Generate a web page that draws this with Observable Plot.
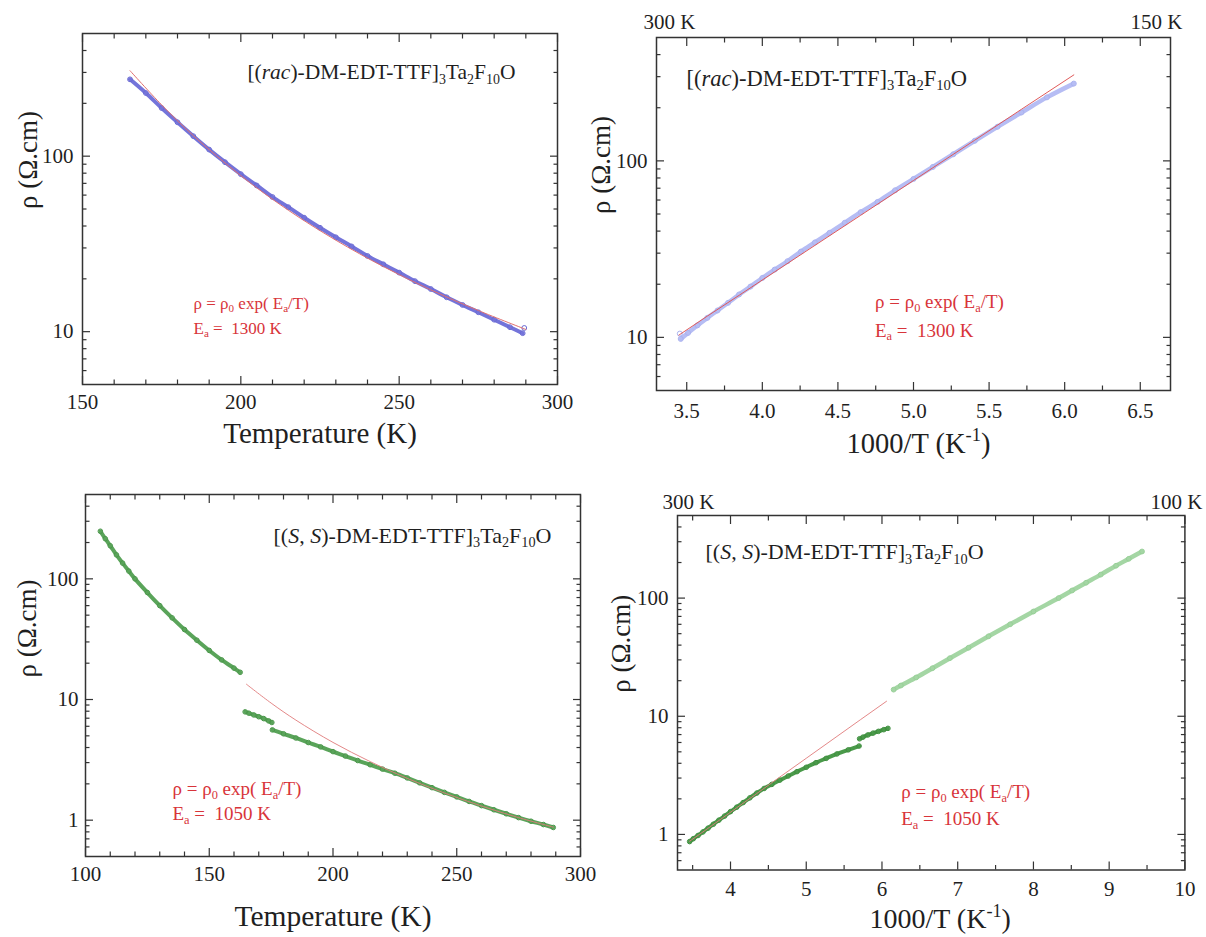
<!DOCTYPE html>
<html>
<head>
<meta charset="utf-8">
<script src="https://cdn.jsdelivr.net/npm/d3@7"></script>
<script src="https://cdn.jsdelivr.net/npm/@observablehq/plot@0.6"></script>
<style>
html, body { margin: 0; padding: 0; background: #fff; }
#wrap { position: relative; width: 1206px; height: 937px; overflow: hidden; background: #fff; }
#wrap svg { position: absolute; overflow: visible; background: transparent !important; font-family: "Liberation Serif", "Times New Roman", Times, serif !important; }
#wrap svg text { font-family: "Liberation Serif", "Times New Roman", Times, serif; white-space: pre; }
</style>
</head>
<body>
<div id="wrap"></div>
<script>
// ---------------- data ----------------
// (rac) sample: temperature (K) and resistivity (Ohm.cm)
const racT   = [165, 170, 175, 180, 185, 190, 195, 200, 205, 210, 215, 220, 225, 230, 235, 240, 245, 250, 255, 260, 265, 270, 275, 280, 285, 289];
const racRho = [274, 229, 188, 156, 130, 109, 92.4, 79, 68.1, 58.5, 51.2, 44.6, 39.1, 34.5, 30.6, 27.0, 24.2, 21.7, 19.4, 17.5, 15.7, 14.2, 12.9, 11.7, 10.6, 9.8];
const racOutT   = [289.5];
const racOutRho = [10.5];
// Arrhenius fit line for (rac), Ea = 1300 K
const racFitT   = [165, 175, 185, 200, 215, 230, 245, 260, 275, 290];
const racFitRho = [307, 196, 131, 77.4, 49.2, 33.2, 23.5, 17.3, 13.2, 10.3];

// (S,S) sample: three measured branches
const ssA_T   = [106, 108, 110, 112.5, 115, 117.5, 120, 125, 130, 135, 140, 145, 150, 155, 160, 162.5];
const ssA_Rho = [248, 215, 188, 158, 135, 116, 100, 77, 60, 47.5, 38, 31, 25.5, 21.3, 18.2, 16.8];
const ssB_T   = [164.5, 166, 168, 170, 172, 174, 175.3];
const ssB_Rho = [7.9, 7.7, 7.45, 7.2, 6.95, 6.65, 6.45];
const ssC_T   = [175.5, 180, 185, 190, 195, 200, 205, 210, 215, 220, 225, 230, 235, 240, 245, 250, 255, 260, 265, 270, 275, 280, 285, 289];
const ssC_Rho = [5.6, 5.2, 4.8, 4.4, 4.05, 3.7, 3.4, 3.12, 2.88, 2.65, 2.45, 2.24, 2.04, 1.86, 1.70, 1.56, 1.43, 1.32, 1.22, 1.13, 1.05, 0.98, 0.92, 0.87];
// Arrhenius fit line for (S,S), Ea = 1050 K
const ssFitT   = [165, 175, 185, 200, 215, 230, 245, 260, 275, 289];
const ssFitRho = [13.4, 9.34, 6.75, 4.41, 3.06, 2.22, 1.68, 1.31, 1.05, 0.876];

// tick values
const tMajor1 = [150, 200, 250, 300];
const tMinor1 = [160, 170, 180, 190, 210, 220, 230, 240, 260, 270, 280, 290];
const invMajor2 = [3.5, 4.0, 4.5, 5.0, 5.5, 6.0, 6.5];
const invMinor2 = [3.75, 4.25, 4.75, 5.25, 5.75, 6.25];
const tMajor3 = [100, 150, 200, 250, 300];
const tMinor3 = [110, 120, 130, 140, 160, 170, 180, 190, 210, 220, 230, 240, 260, 270, 280, 290];
const invMajor4 = [4, 5, 6, 7, 8, 9, 10];
const invMinor4 = [3.5, 4.5, 5.5, 6.5, 7.5, 8.5, 9.5];
const rhoMajorTop = [10, 100];
const rhoMinorTop = [6, 7, 8, 9, 20, 30, 40, 50, 60, 70, 80, 90, 200, 300, 400];
const rhoMajorBot = [1, 10, 100];
const rhoMinorBot = [0.6, 0.7, 0.8, 0.9, 2, 3, 4, 5, 6, 7, 8, 9, 20, 30, 40, 50, 60, 70, 80, 90, 200, 300, 400];
const topTemps2 = [300, 150];
const topTemps4 = [300, 100];

// texts
const labelRac = "[(rac)-DM-EDT-TTF]3Ta2F10O";
const labelSS = "[(S, S)-DM-EDT-TTF]3Ta2F10O";
const fitEq = "ρ = ρ0 exp( Ea/T)";
const fitEa1 = "Ea =  1300 K";
const fitEa2 = "Ea =  1050 K";
const yTitle = "ρ (Ω.cm)";
const tTitle = "Temperature (K)";
const invTitle = "1000/T (K-1)";

// ---------------- tables ----------------
const toRows = (Ts, Rs, seg) => Ts.map((T, i) => ({T, inv: 1000 / T, rho: Rs[i], seg}));
const rac = toRows(racT, racRho, "a");
const racOut = toRows(racOutT, racOutRho, "o");
const racFit = toRows(racFitT, racFitRho, "f");
const ssA = toRows(ssA_T, ssA_Rho, "A");
const ssB = toRows(ssB_T, ssB_Rho, "B");
const ssC = toRows(ssC_T, ssC_Rho, "C");
const ssAll = [...ssA, ...ssB, ...ssC];
const ssFit = toRows(ssFitT, ssFitRho, "f");

// ---------------- rich text (sub/superscripts, italics) ----------------
function rich(parts) {
  let off = 0, out = "";
  for (const [t, k] of parts) {
    const a = [];
    if (k === "s" || k === "u") {
      const target = k === "s" ? 0.2 : -0.4;
      a.push(`dy="${((target - off) / 0.65).toFixed(3)}em"`, 'font-size="65%"');
      off = target;
    } else {
      if (off !== 0) { a.push(`dy="${(-off).toFixed(3)}em"`); off = 0; }
      if (k === "i") a.push('font-style="italic"');
    }
    out += `<tspan ${a.join(" ")}>${t}</tspan>`;
  }
  return out;
}
const tail = [[")-DM-EDT-TTF]", 0], ["3", "s"], ["Ta", 0], ["2", "s"], ["F", 0], ["10", "s"], ["O", 0]];
const RICH = {
  [labelRac]: rich([["[(", 0], ["rac", "i"], ...tail]),
  [labelSS]: rich([["[(", 0], ["S", "i"], [", ", 0], ["S", "i"], ...tail]),
  [fitEq]: rich([["ρ = ρ", 0], ["0", "s"], [" exp( E", 0], ["a", "s"], ["/T)", 0]]),
  [fitEa1]: rich([["E", 0], ["a", "s"], [" =  1300 K", 0]]),
  [fitEa2]: rich([["E", 0], ["a", "s"], [" =  1050 K", 0]]),
  [invTitle]: rich([["1000/T (K", 0], ["-1", "u"], [")", 0]])
};

// ---------------- helpers ----------------
const INK = "#1f1f1f";
const RED = "#d8343a";
const wrap = document.getElementById("wrap");

function inwardTicks(xMaj, xMin, yMaj, yMin) {
  const o = {stroke: "#333", strokeWidth: 1.2, fill: "none", label: null};
  const out = [];
  for (const a of ["bottom", "top"]) {
    out.push(Plot.axisX({...o, anchor: a, ticks: xMaj, tickSize: -8}));
    out.push(Plot.axisX({...o, anchor: a, ticks: xMin, tickSize: -4.5}));
  }
  for (const a of ["left", "right"]) {
    out.push(Plot.axisY({...o, anchor: a, ticks: yMaj, tickSize: -8}));
    out.push(Plot.axisY({...o, anchor: a, ticks: yMin, tickSize: -4.5}));
  }
  return out;
}
const one = (s) => [s];
const txt = (s, o) => Plot.text(one(s), {text: d => d, fill: INK, lineAnchor: "middle", ...o});

function panel({left, top, width, height, m, xDomain, yDomain, marks}) {
  const svg = Plot.plot({
    width, height,
    marginTop: m[0], marginRight: m[1], marginBottom: m[2], marginLeft: m[3],
    x: {domain: xDomain},
    y: {type: "log", domain: yDomain},
    style: "background: transparent; overflow: visible;",
    marks
  });
  svg.style.left = left + "px";
  svg.style.top = top + "px";
  svg.querySelectorAll("text").forEach(t => {
    const k = t.textContent;
    if (RICH[k]) t.innerHTML = RICH[k];
  });
  wrap.appendChild(svg);
}

// ---------------- panel 1: rac, rho vs T ----------------
panel({
  left: 0, top: 0, width: 575, height: 460, m: [33, 18, 76, 82],
  xDomain: [150, 300], yDomain: [5, 500],
  marks: [
    Plot.frame({stroke: "#333", strokeWidth: 1.5}),
    ...inwardTicks(tMajor1, tMinor1, rhoMajorTop, rhoMinorTop),
    Plot.axisX({anchor: "bottom", ticks: tMajor1, tickSize: 0, tickPadding: 10, tickFormat: d => String(d), fontSize: 21, fill: INK, label: null}),
    Plot.axisY({anchor: "left", ticks: rhoMajorTop, tickSize: 0, tickPadding: 9, tickFormat: d => String(d), fontSize: 21, fill: INK, label: null}),
    Plot.line(rac, {x: "T", y: "rho", stroke: "#7474da", strokeWidth: 4, curve: "catmull-rom"}),
    Plot.dot([...rac, ...racOut], {x: "T", y: "rho", r: 2.4, stroke: "#6a6ad4", strokeWidth: 1, fill: "none"}),
    Plot.line(racFit, {x: "T", y: "rho", stroke: "#e07070", strokeWidth: 1, curve: "catmull-rom"}),
    txt(tTitle, {frameAnchor: "bottom", dy: 49, fontSize: 29}),
    txt(yTitle, {frameAnchor: "left", rotate: -90, dx: -54, fontSize: 27}),
    txt(labelRac, {frameAnchor: "top-right", textAnchor: "end", dx: -42, dy: 39, fontSize: 21.5}),
    txt(fitEq, {frameAnchor: "top-left", textAnchor: "start", dx: 111, dy: 269.6, fontSize: 17, fill: RED}),
    txt(fitEa1, {frameAnchor: "top-left", textAnchor: "start", dx: 111, dy: 294.6, fontSize: 17, fill: RED})
  ]
});

// ---------------- panel 2: rac, Arrhenius ----------------
const top2 = topTemps2.map(T => ({inv: 1000 / T, s: `${T} K`}));
panel({
  left: 575, top: 0, width: 631, height: 470, m: [37, 36, 80, 81],
  xDomain: [3.3, 6.7], yDomain: [5, 500],
  marks: [
    Plot.frame({stroke: "#333", strokeWidth: 1.5}),
    ...inwardTicks(invMajor2, invMinor2, rhoMajorTop, rhoMinorTop),
    Plot.axisX({anchor: "bottom", ticks: invMajor2, tickSize: 0, tickPadding: 13, tickFormat: d3.format(".1f"), fontSize: 21, fill: INK, label: null}),
    Plot.axisY({anchor: "left", ticks: rhoMajorTop, tickSize: 0, tickPadding: 9, tickFormat: d => String(d), fontSize: 21, fill: INK, label: null}),
    Plot.text(top2.slice(0, 1), {x: "inv", text: "s", frameAnchor: "top", dy: -15.3, dx: 8, fontSize: 21, fill: INK, lineAnchor: "middle"}),
    Plot.text(top2.slice(1), {x: "inv", text: "s", frameAnchor: "top", dy: -15.3, dx: -9, fontSize: 21, fill: INK, lineAnchor: "middle"}),
    Plot.line(rac, {x: "inv", y: "rho", stroke: "#b6bdf4", strokeWidth: 4.5, curve: "catmull-rom"}),
    Plot.dot([...rac, ...racOut], {x: "inv", y: "rho", r: 2.5, stroke: "#aab2f0", strokeWidth: 1, fill: "none"}),
    Plot.line(racFit, {x: "inv", y: "rho", stroke: "#e05a5a", strokeWidth: 1}),
    txt(invTitle, {frameAnchor: "bottom", dy: 53, dx: 5, fontSize: 28.5}),
    txt(yTitle, {frameAnchor: "left", rotate: -90, dx: -55, fontSize: 27}),
    txt(labelRac, {frameAnchor: "top-left", textAnchor: "start", dx: 30, dy: 41, fontSize: 22.5}),
    txt(fitEq, {frameAnchor: "top-left", textAnchor: "start", dx: 218.5, dy: 264.7, fontSize: 19, fill: RED}),
    txt(fitEa1, {frameAnchor: "top-left", textAnchor: "start", dx: 218.5, dy: 293, fontSize: 19, fill: RED})
  ]
});

// ---------------- panel 3: (S,S), rho vs T ----------------
panel({
  left: 0, top: 470, width: 590, height: 467, m: [24, 10, 81, 85],
  xDomain: [100, 300], yDomain: [0.5, 500],
  marks: [
    Plot.frame({stroke: "#333", strokeWidth: 1.5}),
    ...inwardTicks(tMajor3, tMinor3, rhoMajorBot, rhoMinorBot),
    Plot.axisX({anchor: "bottom", ticks: tMajor3, tickSize: 0, tickPadding: 9.5, tickFormat: d => String(d), fontSize: 21, fill: INK, label: null}),
    Plot.axisY({anchor: "left", ticks: rhoMajorBot, tickSize: 0, tickPadding: 7, tickFormat: d => String(d), fontSize: 21, fill: INK, label: null}),
    Plot.line(ssAll, {x: "T", y: "rho", z: "seg", stroke: "#5aa45a", strokeWidth: 4, curve: "catmull-rom"}),
    Plot.dot(ssAll, {x: "T", y: "rho", r: 2.3, stroke: "#4a974a", strokeWidth: 1, fill: "none"}),
    Plot.line(ssFit, {x: "T", y: "rho", stroke: "#e07a7a", strokeWidth: 0.9, curve: "catmull-rom"}),
    txt(tTitle, {frameAnchor: "bottom", dy: 60, fontSize: 29.5}),
    txt(yTitle, {frameAnchor: "left", rotate: -90, dx: -58, dy: 2, fontSize: 27}),
    txt(labelSS, {frameAnchor: "top-right", textAnchor: "end", dx: -29, dy: 41, fontSize: 22}),
    txt(fitEq, {frameAnchor: "top-left", textAnchor: "start", dx: 87, dy: 294.3, fontSize: 19, fill: RED}),
    txt(fitEa2, {frameAnchor: "top-left", textAnchor: "start", dx: 87, dy: 319.3, fontSize: 19, fill: RED})
  ]
});

// ---------------- panel 4: (S,S), Arrhenius ----------------
const top4 = topTemps4.map(T => ({inv: 1000 / T, s: `${T} K`}));
panel({
  left: 575, top: 470, width: 631, height: 467, m: [45, 21.6, 67.5, 102],
  xDomain: [3.3, 10], yDomain: [0.5, 500],
  marks: [
    Plot.frame({stroke: "#333", strokeWidth: 1.5}),
    ...inwardTicks(invMajor4, invMinor4, rhoMajorBot, rhoMinorBot),
    Plot.axisX({anchor: "bottom", ticks: invMajor4, tickSize: 0, tickPadding: 11.4, tickFormat: d => String(d), fontSize: 21, fill: INK, label: null}),
    Plot.axisY({anchor: "left", ticks: rhoMajorBot, tickSize: 0, tickPadding: 9, tickFormat: d => String(d), fontSize: 21, fill: INK, label: null}),
    Plot.text(top4.slice(0, 1), {x: "inv", text: "s", frameAnchor: "top", dy: -13.3, dx: 8.5, fontSize: 21, fill: INK, lineAnchor: "middle"}),
    Plot.text(top4.slice(1), {x: "inv", text: "s", frameAnchor: "top", dy: -13.3, dx: -8.4, fontSize: 21, fill: INK, lineAnchor: "middle"}),
    Plot.line(ssA, {x: "inv", y: "rho", stroke: "#a4d6a4", strokeWidth: 4.5, curve: "catmull-rom"}),
    Plot.dot(ssA, {x: "inv", y: "rho", r: 2.4, stroke: "#98d098", strokeWidth: 1, fill: "none"}),
    Plot.line([...ssB, ...ssC], {x: "inv", y: "rho", z: "seg", stroke: "#4a9a4a", strokeWidth: 4, curve: "catmull-rom"}),
    Plot.dot([...ssB, ...ssC], {x: "inv", y: "rho", r: 2.3, stroke: "#3e8e3e", strokeWidth: 1, fill: "none"}),
    Plot.line(ssFit, {x: "inv", y: "rho", stroke: "#e07a7a", strokeWidth: 0.9}),
    txt(invTitle, {frameAnchor: "bottom", dy: 49.5, dx: 9, fontSize: 28}),
    txt(yTitle, {frameAnchor: "left", rotate: -90, dx: -56, fontSize: 27}),
    txt(labelSS, {frameAnchor: "top-left", textAnchor: "start", dx: 28, dy: 36.7, fontSize: 22}),
    txt(fitEq, {frameAnchor: "top-left", textAnchor: "start", dx: 223.7, dy: 276.7, fontSize: 19, fill: RED}),
    txt(fitEa2, {frameAnchor: "top-left", textAnchor: "start", dx: 223.7, dy: 303.3, fontSize: 19, fill: RED})
  ]
});
</script>
</body>
</html>
